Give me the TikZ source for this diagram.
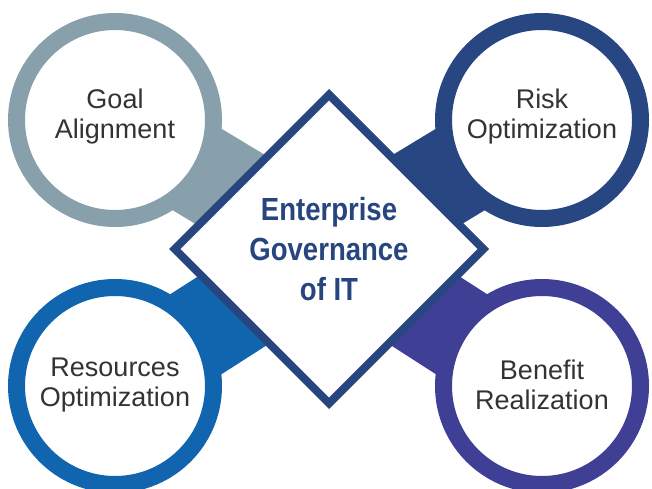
\documentclass[tikz,border=0pt]{standalone}
\usepackage{fontspec}
\setmainfont{Liberation Sans}
\newfontfamily\condfont[FakeStretch=0.86]{Liberation Sans}
\usetikzlibrary{shapes.geometric,backgrounds}
\definecolor{cgoal}{HTML}{87A0AC}
\definecolor{crisk}{HTML}{284681}
\definecolor{cres}{HTML}{1165AF}
\definecolor{cben}{HTML}{3F4095}
\definecolor{cdia}{HTML}{27457F}
\definecolor{ctext}{HTML}{333333}
\tikzset{
  ring/.style={circle, draw=#1, line width=17pt, fill=white, minimum size=197pt,
    inner sep=0pt},
  ringtext/.style={align=center, text=ctext, inner sep=0pt,
    font=\fontsize{27pt}{30pt}\selectfont},
  bar/.style={draw=#1, line width=95pt},
  core/.style={diamond, aspect=1, draw=cdia, line width=8pt, fill=white,
    minimum size=312pt, inner sep=0pt, align=center, text=cdia,
    font=\condfont\bfseries\fontsize{32pt}{40pt}\selectfont}
}
\begin{document}
\begin{tikzpicture}[x=1pt,y=-1pt]
\useasboundingbox (0,0) rectangle (652,489);
\node[ring=cgoal] (goal) at (115,120) {};
\node[ring=crisk] (risk) at (542,120) {};
\node[ring=cres] (res) at (115,386) {};
\node[ring=cben] (ben) at (542,386) {};
\node[ringtext, yshift=3.5pt] (goalt) at (goal.center) {Goal\\Alignment};
\node[ringtext, yshift=3.5pt] (riskt) at (risk.center) {Risk\\Optimization};
\node[ringtext, yshift=0.5pt] (rest) at (res.center) {Resources\\Optimization};
\node[ringtext, yshift=1pt] (bent) at (ben.center) {Benefit\\Realization};
\node[core] (egit) at (329,249) {Enterprise\\Governance\\of IT};
\begin{scope}[on background layer]
\draw[bar=cgoal] (egit.center) -- (goal.center);
\draw[bar=crisk] (egit.center) -- (risk.center);
\draw[bar=cres] (egit.center) -- (res.center);
\draw[bar=cben] (egit.center) -- (ben.center);
\end{scope}
\end{tikzpicture}
\end{document}
